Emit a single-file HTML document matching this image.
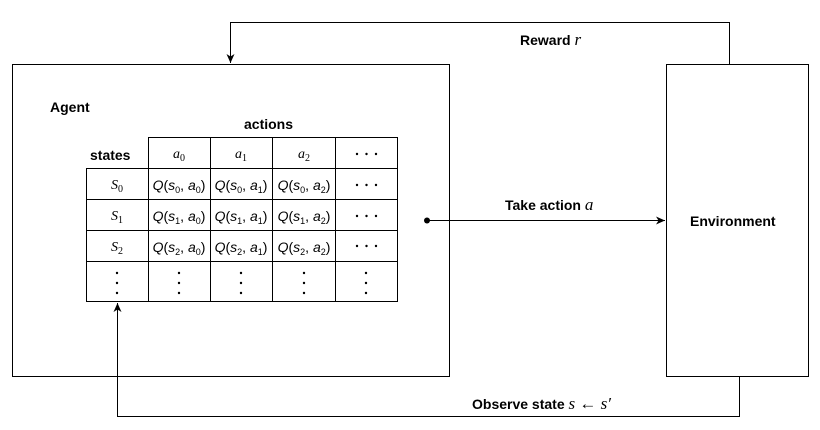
<!DOCTYPE html><html><head><style>
body{margin:0;background:#fff;}
svg text{font-family:"Liberation Sans",sans-serif;}
.m{font-family:"Liberation Serif",serif;font-style:italic;font-size:14px;}
</style></head><body>
<svg width="820" height="425" xmlns="http://www.w3.org/2000/svg">
<defs><marker id="a" markerWidth="10" markerHeight="10" refX="9" refY="5" orient="auto" markerUnits="userSpaceOnUse"><path d="M0,1 L9,5 L0,9 L2.5,5 Z" fill="#000"/></marker></defs>
<rect x="12.5" y="64.5" width="437" height="312" fill="none" stroke="#000"/>
<rect x="666.5" y="64.5" width="142" height="312" fill="none" stroke="#000"/>
<polyline points="729.5,64 729.5,22.5 230.5,22.5 230.5,63" fill="none" stroke="#000" marker-end="url(#a)"/>
<polyline points="739.5,377 739.5,416.5 117.5,416.5 117.5,303" fill="none" stroke="#000" marker-end="url(#a)"/>
<line x1="427" y1="220.5" x2="665" y2="220.5" stroke="#000" marker-end="url(#a)"/>
<circle cx="427" cy="220.5" r="3" fill="#000"/>
<text x="520" y="45" font-size="14" font-weight="bold">Reward <tspan font-family="Liberation Serif,serif" font-style="italic" font-weight="normal" font-size="17">r</tspan></text>
<text x="505" y="210" font-size="14" font-weight="bold">Take action <tspan font-family="Liberation Serif,serif" font-style="italic" font-weight="normal" font-size="17">a</tspan></text>
<text x="472" y="409" font-size="14" font-weight="bold">Observe state <tspan font-family="Liberation Serif,serif" font-style="italic" font-weight="normal" font-size="17">s ← s′</tspan></text>
<text x="690" y="226" font-size="14" font-weight="bold">Environment</text>
<text x="50" y="112" font-size="14" font-weight="bold">Agent</text>
<text x="244" y="129" font-size="14" font-weight="bold">actions</text>
<text x="90" y="160" font-size="14" font-weight="bold">states</text>
<g stroke="#000" fill="none">
<rect x="148.5" y="137.5" width="249" height="164"/>
<rect x="86.5" y="168.5" width="62" height="133"/>
<line x1="210.5" y1="137" x2="210.5" y2="302"/>
<line x1="272.5" y1="137" x2="272.5" y2="302"/>
<line x1="335.5" y1="137" x2="335.5" y2="302"/>
<line x1="86" y1="199.5" x2="398" y2="199.5"/>
<line x1="86" y1="230.5" x2="398" y2="230.5"/>
<line x1="86" y1="261.5" x2="398" y2="261.5"/>
<line x1="148" y1="168.5" x2="398" y2="168.5"/>
</g>
<g text-anchor="middle">
<text x="179" y="158" class="m">a<tspan font-size="10" dy="3" font-style="normal">0</tspan></text>
<text x="241" y="158" class="m">a<tspan font-size="10" dy="3" font-style="normal">1</tspan></text>
<text x="304" y="158" class="m">a<tspan font-size="10" dy="3" font-style="normal">2</tspan></text>
<text x="117" y="189" class="m">S<tspan font-size="10" dy="3" font-style="normal">0</tspan></text>
<text x="117" y="220" class="m">S<tspan font-size="10" dy="3" font-style="normal">1</tspan></text>
<text x="117" y="251" class="m">S<tspan font-size="10" dy="3" font-style="normal">2</tspan></text>
</g>
<g font-family="Liberation Serif,serif" font-size="14" text-anchor="middle">
<text x="179" y="190"><tspan font-style="italic">Q</tspan>(<tspan font-style="italic">s</tspan><tspan font-size="9" dy="3">0</tspan><tspan dy="-3">, </tspan><tspan font-style="italic">a</tspan><tspan font-size="9" dy="3">0</tspan><tspan dy="-3">)</tspan></text>
<text x="241" y="190"><tspan font-style="italic">Q</tspan>(<tspan font-style="italic">s</tspan><tspan font-size="9" dy="3">0</tspan><tspan dy="-3">, </tspan><tspan font-style="italic">a</tspan><tspan font-size="9" dy="3">1</tspan><tspan dy="-3">)</tspan></text>
<text x="304" y="190"><tspan font-style="italic">Q</tspan>(<tspan font-style="italic">s</tspan><tspan font-size="9" dy="3">0</tspan><tspan dy="-3">, </tspan><tspan font-style="italic">a</tspan><tspan font-size="9" dy="3">2</tspan><tspan dy="-3">)</tspan></text>
<text x="179" y="221"><tspan font-style="italic">Q</tspan>(<tspan font-style="italic">s</tspan><tspan font-size="9" dy="3">1</tspan><tspan dy="-3">, </tspan><tspan font-style="italic">a</tspan><tspan font-size="9" dy="3">0</tspan><tspan dy="-3">)</tspan></text>
<text x="241" y="221"><tspan font-style="italic">Q</tspan>(<tspan font-style="italic">s</tspan><tspan font-size="9" dy="3">1</tspan><tspan dy="-3">, </tspan><tspan font-style="italic">a</tspan><tspan font-size="9" dy="3">1</tspan><tspan dy="-3">)</tspan></text>
<text x="304" y="221"><tspan font-style="italic">Q</tspan>(<tspan font-style="italic">s</tspan><tspan font-size="9" dy="3">1</tspan><tspan dy="-3">, </tspan><tspan font-style="italic">a</tspan><tspan font-size="9" dy="3">2</tspan><tspan dy="-3">)</tspan></text>
<text x="179" y="252"><tspan font-style="italic">Q</tspan>(<tspan font-style="italic">s</tspan><tspan font-size="9" dy="3">2</tspan><tspan dy="-3">, </tspan><tspan font-style="italic">a</tspan><tspan font-size="9" dy="3">0</tspan><tspan dy="-3">)</tspan></text>
<text x="241" y="252"><tspan font-style="italic">Q</tspan>(<tspan font-style="italic">s</tspan><tspan font-size="9" dy="3">2</tspan><tspan dy="-3">, </tspan><tspan font-style="italic">a</tspan><tspan font-size="9" dy="3">1</tspan><tspan dy="-3">)</tspan></text>
<text x="304" y="252"><tspan font-style="italic">Q</tspan>(<tspan font-style="italic">s</tspan><tspan font-size="9" dy="3">2</tspan><tspan dy="-3">, </tspan><tspan font-style="italic">a</tspan><tspan font-size="9" dy="3">2</tspan><tspan dy="-3">)</tspan></text>
</g>
<g fill="#000">
<circle cx="357" cy="154" r="1.2"/><circle cx="366.5" cy="154" r="1.2"/><circle cx="376" cy="154" r="1.2"/>
<circle cx="357" cy="185" r="1.2"/><circle cx="366.5" cy="185" r="1.2"/><circle cx="376" cy="185" r="1.2"/>
<circle cx="357" cy="216" r="1.2"/><circle cx="366.5" cy="216" r="1.2"/><circle cx="376" cy="216" r="1.2"/>
<circle cx="357" cy="246" r="1.2"/><circle cx="366.5" cy="246" r="1.2"/><circle cx="376" cy="246" r="1.2"/>
<g id="v"><circle cx="117" cy="273" r="1.2"/><circle cx="117" cy="283" r="1.2"/><circle cx="117" cy="293" r="1.2"/></g>
<use href="#v" x="62"/><use href="#v" x="124"/><use href="#v" x="187"/><use href="#v" x="249"/>
</g>
</svg>
</body></html>
